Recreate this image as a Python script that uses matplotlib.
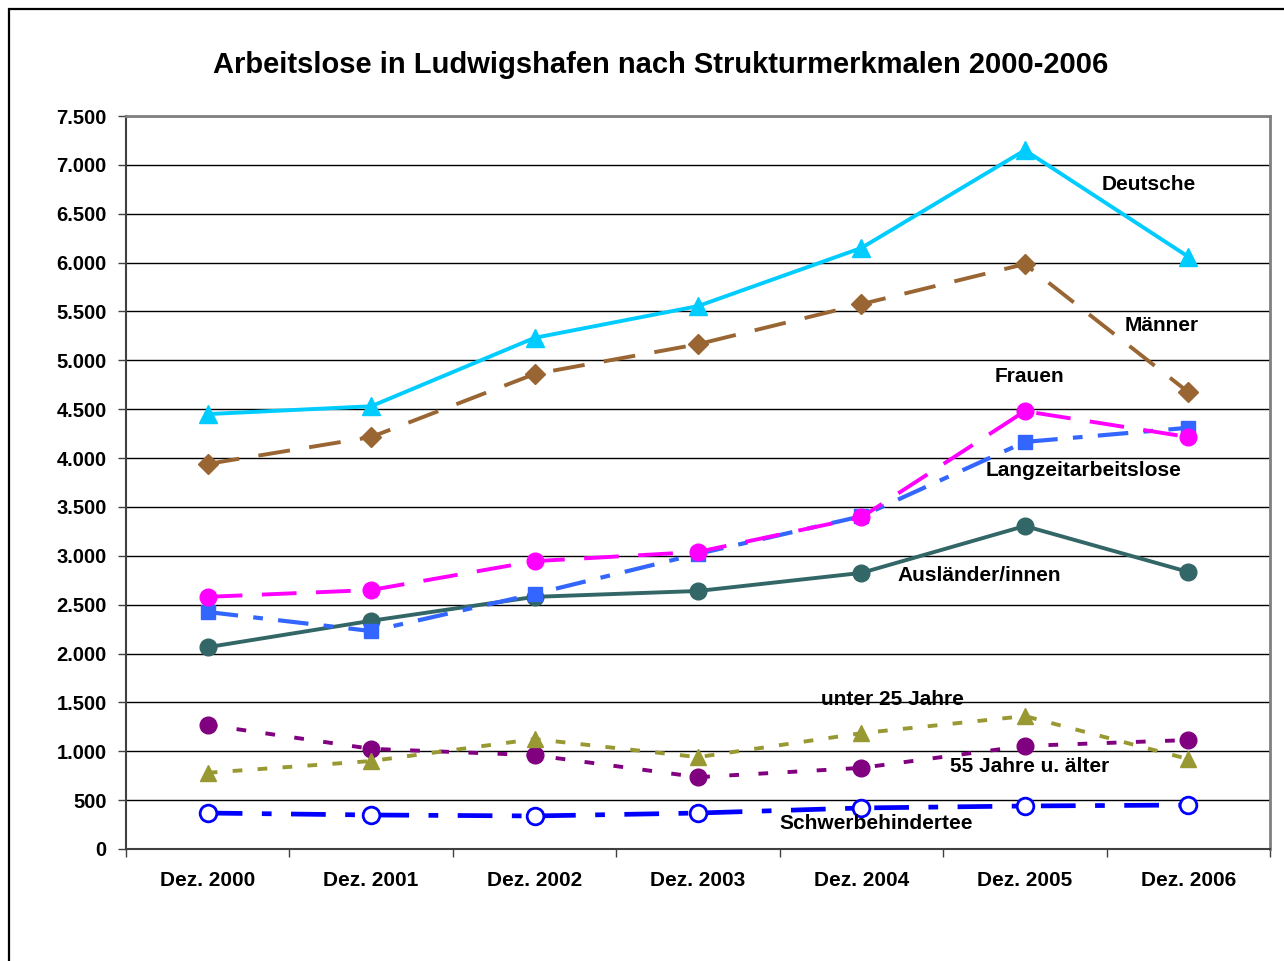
import matplotlib
matplotlib.use('Agg')
import matplotlib.pyplot as plt
from matplotlib.patches import Rectangle

plt.rcParams['font.family'] = ['Liberation Sans', 'DejaVu Sans']
plt.rcParams['font.weight'] = 'bold'
plt.rcParams['lines.scale_dashes'] = False

# Daten
kategorien = ['Dez. 2000', 'Dez. 2001', 'Dez. 2002', 'Dez. 2003', 'Dez. 2004', 'Dez. 2005', 'Dez. 2006']
deutsche = [4450, 4530, 5230, 5555, 6150, 7150, 6060]
maenner = [3940, 4215, 4860, 5165, 5575, 5985, 4675]
frauen = [2580, 2650, 2945, 3040, 3395, 4480, 4215]
langzeit = [2425, 2230, 2610, 3020, 3405, 4165, 4310]
auslaender = [2065, 2335, 2580, 2640, 2825, 3305, 2835]
unter25 = [780, 900, 1125, 940, 1185, 1360, 920]
ueber55 = [1270, 1025, 960, 735, 830, 1055, 1115]
schwerbehinderte = [368, 348, 338, 368, 420, 440, 450]

y_ticks = [0, 500, 1000, 1500, 2000, 2500, 3000, 3500, 4000, 4500, 5000, 5500, 6000, 6500, 7000, 7500]
y_labels = ['0', '500', '1.000', '1.500', '2.000', '2.500', '3.000', '3.500', '4.000',
            '4.500', '5.000', '5.500', '6.000', '6.500', '7.000', '7.500']

fig = plt.figure(figsize=(12.84, 9.61), dpi=100)
ax = fig.add_axes([126 / 1284, 1 - 849 / 961, (1270 - 126) / 1284, (849 - 116) / 961])

x = list(range(len(kategorien)))

# Reihen: Werte, Farbe, Linienstil, Marker, Linienbreite, Markergröße, Füllung
reihen = [
    (ueber55, '#800080', (0, (7, 14)), 'o', 2.8, 12, '#800080'),
    (unter25, '#999933', (0, (7, 11)), '^', 2.8, 12, '#999933'),
    (auslaender, '#336666', '-', 'o', 2.8, 12, '#336666'),
    (langzeit, '#3366FF', (0, (22, 11, 7, 11)), 's', 3.0, 10, '#3366FF'),
    (frauen, '#FF00FF', (0, (25, 14)), 'o', 2.8, 12, '#FF00FF'),
    (maenner, '#996633', (0, (23, 14)), 'D', 2.8, 10, '#996633'),
    (deutsche, '#00CCFF', '-', '^', 2.8, 13, '#00CCFF'),
    (schwerbehinderte, '#0000FF', (0, (25, 14, 7, 14)), 'o', 3.4, 12, 'white'),
]

for werte, farbe, stil, marker, lw, ms, fill in reihen:
    ax.plot(x, werte, color=farbe, linestyle=stil, linewidth=lw, marker=marker,
            markersize=ms, markerfacecolor=fill, markeredgecolor=farbe,
            markeredgewidth=2 if fill == 'white' else 1, zorder=3)

# Beschriftungen der Reihen
beschriftungen = [
    ('Deutsche', 5.76, 6800),
    ('Männer', 5.84, 5360),
    ('Frauen', 5.03, 4830),
    ('Langzeitarbeitslose', 5.36, 3870),
    ('Ausländer/innen', 4.72, 2795),
    ('unter 25 Jahre', 4.19, 1525),
    ('55 Jahre u. älter', 5.03, 840),
    ('Schwerbehindertee', 4.09, 265),
]
for text, tx, ty in beschriftungen:
    ax.text(tx, ty, text, ha='center', va='center', fontsize=15, fontweight='bold', zorder=4)

ax.set_xlim(-0.5, 6.5)
ax.set_ylim(0, 7500)
ax.set_yticks(y_ticks)
ax.set_yticklabels(y_labels, fontsize=14.5, fontweight='bold')
ax.set_xticks(x)
ax.set_xticklabels(kategorien, fontsize=15, fontweight='bold')
ax.set_xticks([i - 0.5 for i in range(len(kategorien) + 1)], minor=True)
ax.tick_params(axis='x', which='major', length=0, pad=16)
ax.tick_params(axis='x', which='minor', length=6, width=1, color='#404040')
ax.tick_params(axis='y', length=6, width=1, color='#404040', pad=8)

ax.grid(axis='y', color='black', linewidth=1)
ax.set_axisbelow(True)
for s in ['top', 'right']:
    ax.spines[s].set_color('#808080')
    ax.spines[s].set_linewidth(2)
for s in ['left', 'bottom']:
    ax.spines[s].set_color('#404040')
    ax.spines[s].set_linewidth(1.5)

fig.text(661 / 1284, 1 - 65 / 961, 'Arbeitslose in Ludwigshafen nach Strukturmerkmalen 2000-2006',
         ha='center', va='center', fontsize=21, fontweight='bold')

# Rahmen um das Diagramm
fig.patches.append(Rectangle((9 / 1284, -0.1), 1.2, 1 - 9 / 961 + 0.1, transform=fig.transFigure,
                             fill=False, edgecolor='black', linewidth=1.6))

fig.savefig('out.png', dpi=100)
